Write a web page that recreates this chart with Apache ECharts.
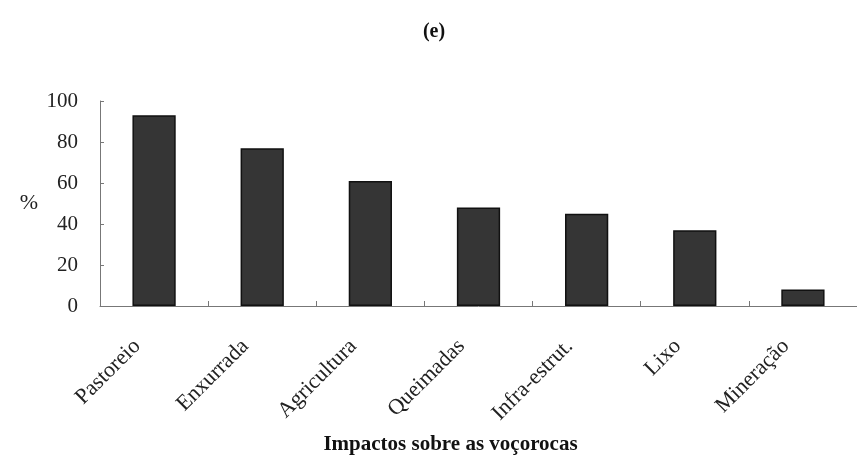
<!DOCTYPE html>
<html>
<head>
<meta charset="utf-8">
<script src="https://cdn.jsdelivr.net/npm/echarts@6/dist/echarts.min.js"></script>
<style>html,body{margin:0;padding:0;background:#fff}#c{width:857px;height:472px}</style>
</head>
<body>
<div id="c"></div>
<script>
const categories = ["Pastoreio", "Enxurrada", "Agricultura", "Queimadas", "Infra-estrut.", "Lixo", "Mineração"];
const values = [93, 77, 61, 48, 45, 37, 8];
const yTicks = [0, 20, 40, 60, 80, 100];

const chart = echarts.init(document.getElementById('c'), null, {renderer: 'canvas'});
const serif = '"Liberation Serif", "DejaVu Serif", serif';
chart.setOption({
  animation: false,
  backgroundColor: '#ffffff',
  title: {
    text: '(e)', left: 429, top: 17, textAlign: 'center',
    textStyle: {fontFamily: serif, fontWeight: 'bold', fontSize: 20, color: '#111'}
  },
  grid: {left: 100, right: -3, top: 101, bottom: 166, containLabel: false},
  xAxis: {
    type: 'category', data: categories,
    name: 'Impactos sobre as voçorocas', nameLocation: 'middle', nameGap: 128,
    nameTextStyle: {fontFamily: serif, fontWeight: 'bold', fontSize: 21, color: '#111', padding: [0, 56, 0, 0]},
    axisLine: {lineStyle: {color: '#777', width: 1}},
    axisTick: {show: true, inside: true, length: 5, lineStyle: {color: '#777'}},
    axisLabel: {rotate: 45, margin: 20, padding: [0, 24, 0, 0], fontFamily: serif, fontSize: 22, color: '#222'}
  },
  yAxis: {
    type: 'value', min: 0, max: 100, interval: 20,
    name: '%', nameLocation: 'middle', nameRotate: 0, nameGap: 62,
    nameTextStyle: {fontFamily: serif, fontSize: 22, color: '#222'},
    splitLine: {show: false},
    axisLine: {show: true, lineStyle: {color: '#777', width: 1}},
    axisTick: {show: true, inside: true, length: 4, lineStyle: {color: '#777'}},
    axisLabel: {margin: 22, fontFamily: serif, fontSize: 21, color: '#222',
      formatter: v => yTicks.includes(v) ? String(v) : ''}
  },
  series: [{
    type: 'bar', data: values, barCategoryGap: '60%',
    itemStyle: {color: '#353535', borderColor: '#111', borderWidth: 1.5}
  }]
});
</script>
</body>
</html>
